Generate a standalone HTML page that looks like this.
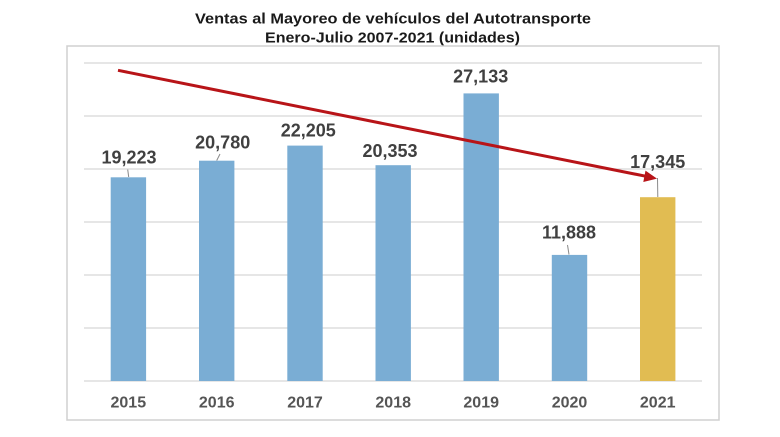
<!DOCTYPE html>
<html>
<head>
<meta charset="utf-8">
<style>
  html, body { margin: 0; padding: 0; background: #ffffff; }
  svg { display: block; }
  text { font-family: "Liberation Sans", "DejaVu Sans", sans-serif; font-weight: bold; }
</style>
</head>
<body>
<svg width="780" height="437" viewBox="0 0 780 437" xmlns="http://www.w3.org/2000/svg">
  <rect x="0" y="0" width="780" height="437" fill="#ffffff"/>
  <!-- Title -->
  <text x="393" y="23.5" font-size="15" fill="#1a1a1a" text-anchor="middle" textLength="396" lengthAdjust="spacingAndGlyphs">Ventas al Mayoreo de vehículos del Autotransporte</text>
  <text x="392.5" y="42.5" font-size="15" fill="#1a1a1a" text-anchor="middle" textLength="255" lengthAdjust="spacingAndGlyphs">Enero-Julio 2007-2021 (unidades)</text>

  <!-- Frame -->
  <rect x="67" y="46" width="652" height="374" fill="none" stroke="#d0d0d0" stroke-width="1.5"/>

  <!-- Gridlines -->
  <g stroke="#d6d6d6" stroke-width="1.3">
    <line x1="84" y1="63" x2="702" y2="63"/>
    <line x1="84" y1="116" x2="702" y2="116"/>
    <line x1="84" y1="169" x2="702" y2="169"/>
    <line x1="84" y1="222" x2="702" y2="222"/>
    <line x1="84" y1="275" x2="702" y2="275"/>
    <line x1="84" y1="328" x2="702" y2="328"/>
    <line x1="84" y1="381" x2="702" y2="381"/>
  </g>

  <!-- Bars -->
  <g fill="#7aadd4">
    <rect x="110.7" y="177.3" width="35.4" height="203.7"/>
    <rect x="199" y="160.7" width="35.4" height="220.3"/>
    <rect x="287.3" y="145.6" width="35.4" height="235.4"/>
    <rect x="375.5" y="165.2" width="35.4" height="215.8"/>
    <rect x="463.5" y="93.4" width="35.4" height="287.6"/>
    <rect x="551.8" y="254.9" width="35.4" height="126.1"/>
  </g>
  <rect x="640" y="197.2" width="35.4" height="183.8" fill="#e1bc52"/>

  <!-- Leader lines -->
  <g stroke="#8a8a8a" stroke-width="1">
    <line x1="127.7" y1="169.5" x2="128.7" y2="177"/>
    <line x1="220" y1="154" x2="216.7" y2="160.5"/>
    <line x1="567.5" y1="245" x2="569" y2="254.5"/>
    <line x1="657.5" y1="178" x2="657.8" y2="197"/>
  </g>

  <!-- Trend arrow -->
  <line x1="118" y1="70.3" x2="648" y2="176.7" stroke="#b81418" stroke-width="3"/>
  <polygon points="657,178.6 645.5,170.6 643.3,182" fill="#b81418"/>

  <!-- Data labels -->
  <g font-size="18" fill="#404040" text-anchor="middle">
    <text x="129" y="163.5">19,223</text>
    <text x="222.7" y="148.5">20,780</text>
    <text x="308.3" y="136.5">22,205</text>
    <text x="390" y="157">20,353</text>
    <text x="480.7" y="82.5">27,133</text>
    <text x="569" y="238.5">11,888</text>
    <text x="657.7" y="168">17,345</text>
  </g>

  <!-- Year labels -->
  <g font-size="16" fill="#555555" text-anchor="middle">
    <text x="128.3" y="407.7">2015</text>
    <text x="216.7" y="407.7">2016</text>
    <text x="305" y="407.7">2017</text>
    <text x="393.2" y="407.7">2018</text>
    <text x="481.2" y="407.7">2019</text>
    <text x="569.5" y="407.7">2020</text>
    <text x="657.7" y="407.7">2021</text>
  </g>
</svg>
</body>
</html>
